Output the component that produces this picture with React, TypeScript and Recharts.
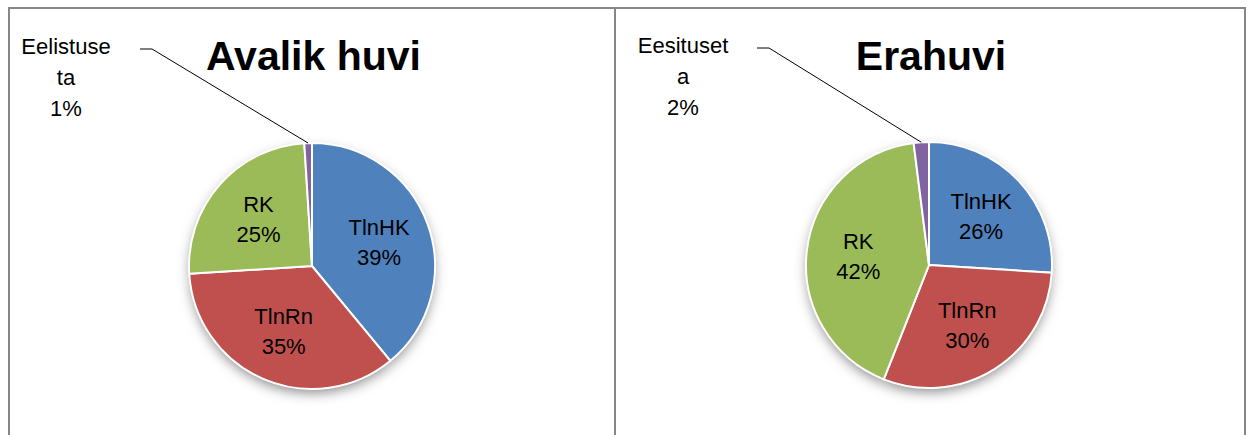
import { PieChart, Pie, Cell } from "recharts";

/** Slice names, shared by both pies. */
const SLICE_NAMES = ["TlnHK", "TlnRn", "RK", "Eelistuseta"];
const SLICE_NAMES_PRIVATE = ["TlnHK", "TlnRn", "RK", "Eesituseta"];

/** Shares in percent, clockwise from 12 o'clock. */
const PUBLIC_VALUES = [39, 35, 25, 1];
const PRIVATE_VALUES = [26, 30, 42, 2];

const TITLES = ["Avalik huvi", "Erahuvi"];

const SLICE_COLORS = ["#4f81bd", "#c0504d", "#9bbb59", "#8064a2"];
const BORDER = "#878787";
const FONT = "'Liberation Sans', Arial, sans-serif";

const publicData = SLICE_NAMES.map((name, i) => ({ name, value: PUBLIC_VALUES[i] }));
const privateData = SLICE_NAMES_PRIVATE.map((name, i) => ({ name, value: PRIVATE_VALUES[i] }));

const RADIAN = Math.PI / 180;
const OUTER = 123;

/** Excel wraps the long outside label after 9 characters. */
function wrap(name: string): string[] {
  const out: string[] = [];
  for (let i = 0; i < name.length; i += 9) out.push(name.slice(i, i + 9));
  return out;
}

function SliceLabel(props: any) {
  const { cx, cy, midAngle, outerRadius, percent, name } = props;
  const pct = `${Math.round(percent * 100)}%`;
  const cos = Math.cos(-midAngle * RADIAN);
  const sin = Math.sin(-midAngle * RADIAN);

  if (percent < 0.05) {
    // outside label, dragged up-left with a leader line
    const lines = [...wrap(name), pct];
    const tx = cx - 246;
    const ty = cy - 212;
    const ex = cx + outerRadius * cos;
    const ey = cy + outerRadius * sin;
    const lx = tx + 74;
    const ly = ty - 5;
    return (
      <g>
        <polyline
          points={`${lx},${ly} ${lx + 12},${ly} ${ex},${ey}`}
          fill="none"
          stroke="#000"
          strokeWidth={1}
        />
        <text x={tx} y={ty} textAnchor="middle" fontFamily={FONT} fontSize={22} fill="#000">
          {lines.map((l, i) => (
            <tspan key={i} x={tx} dy={i === 0 ? 0 : 31}>
              {l}
            </tspan>
          ))}
        </text>
      </g>
    );
  }

  const r = outerRadius * 0.58;
  const x = cx + r * cos;
  const y = cy + r * sin;
  return (
    <text
      x={x}
      y={y - 15}
      textAnchor="middle"
      dominantBaseline="central"
      fontFamily={FONT}
      fontSize={22}
      fill="#000"
    >
      <tspan x={x} dy={0}>
        {name}
      </tspan>
      <tspan x={x} dy={30}>
        {pct}
      </tspan>
    </text>
  );
}

const titleStyle = {
  position: "absolute" as const,
  top: 33,
  textAlign: "center" as const,
  fontFamily: FONT,
  fontWeight: "bold" as const,
  fontSize: 41,
  color: "#000",
};

export default function App() {
  return (
    <div
      style={{
        position: "absolute",
        left: 0,
        top: 0,
        width: 1253,
        height: 435,
        overflow: "hidden",
        background: "#fff",
      }}
    >
      <style>{`.pie-shadow { filter: blur(4px); }`}</style>
      <div
        style={{
          position: "absolute",
          left: 8,
          top: 7,
          width: 608,
          height: 440,
          boxSizing: "border-box",
          border: `2px solid ${BORDER}`,
        }}
      />
      <div
        style={{
          position: "absolute",
          left: 614,
          top: 7,
          width: 632,
          height: 440,
          boxSizing: "border-box",
          border: `2px solid ${BORDER}`,
        }}
      />
      <div style={{ ...titleStyle, left: 0, width: 627 }}>{TITLES[0]}</div>
      <div style={{ ...titleStyle, left: 614, width: 634 }}>{TITLES[1]}</div>
      <div style={{ position: "absolute", left: 0, top: 0 }}>
        <PieChart width={1253} height={435} margin={{ top: 0, right: 0, bottom: 0, left: 0 }}>
          {/* soft drop shadows behind the pies */}
          <Pie
            data={publicData}
            dataKey="value"
            cx={312}
            cy={271}
            outerRadius={OUTER - 1}
            startAngle={90}
            endAngle={-270}
            stroke="none"
            className="pie-shadow"
            isAnimationActive={false}
          >
            {publicData.map((d) => (
              <Cell key={d.name} fill="#8c8c8c" />
            ))}
          </Pie>
          <Pie
            data={privateData}
            dataKey="value"
            cx={929}
            cy={270}
            outerRadius={OUTER - 1}
            startAngle={90}
            endAngle={-270}
            stroke="none"
            className="pie-shadow"
            isAnimationActive={false}
          >
            {privateData.map((d) => (
              <Cell key={d.name} fill="#8c8c8c" />
            ))}
          </Pie>
          <Pie
            data={publicData}
            dataKey="value"
            nameKey="name"
            cx={312}
            cy={266}
            outerRadius={OUTER}
            startAngle={90}
            endAngle={-270}
            stroke="#fff"
            strokeWidth={2}
            label={SliceLabel}
            labelLine={false}
            isAnimationActive={false}
          >
            {publicData.map((d, i) => (
              <Cell key={d.name} fill={SLICE_COLORS[i]} />
            ))}
          </Pie>
          <Pie
            data={privateData}
            dataKey="value"
            nameKey="name"
            cx={929}
            cy={265}
            outerRadius={OUTER}
            startAngle={90}
            endAngle={-270}
            stroke="#fff"
            strokeWidth={2}
            label={SliceLabel}
            labelLine={false}
            isAnimationActive={false}
          >
            {privateData.map((d, i) => (
              <Cell key={d.name} fill={SLICE_COLORS[i]} />
            ))}
          </Pie>
        </PieChart>
      </div>
    </div>
  );
}
